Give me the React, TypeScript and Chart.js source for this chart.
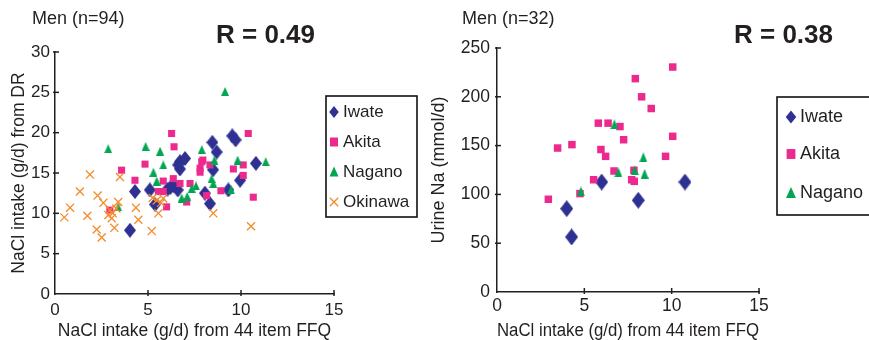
import React, { useEffect, useRef } from "react";
import { Chart, registerables } from "chart.js";
Chart.register(...registerables);

const FONT = '"Liberation Sans", Arial, Helvetica, sans-serif';
const INK = "#231f20";

const seriesNames = ["Iwate", "Akita", "Nagano", "Okinawa"];
const seriesColors = ["#2e3192", "#ec2a8e", "#00a651", "#f58a2b"];

const xTicks = [0, 5, 10, 15];
const leftYTicks = [0, 5, 10, 15, 20, 25, 30];
const rightYTicks = [0, 50, 100, 150, 200, 250];

// Left panel: NaCl intake (g/d) from 44 item FFQ  vs  NaCl intake (g/d) from DR
const leftIwate: number[][] = [
  [4.03, 7.9], [4.3, 12.7], [5.1, 12.9], [5.38, 11.1], [6.05, 13.0], [6.2, 13.2], [6.4, 13.4],
  [6.6, 12.9], [6.62, 16.0], [6.72, 15.5], [6.72, 16.4], [6.99, 16.8], [8.06, 12.5], [8.33, 11.2],
  [8.46, 18.8], [8.69, 17.6], [8.5, 15.4], [9.32, 12.9], [9.53, 19.6], [9.71, 19.1], [9.95, 14.1],
  [10.8, 16.2],
];
const leftAkita: number[][] = [
  [2.95, 10.4], [3.58, 15.35], [4.3, 14.1], [4.84, 16.1], [5.56, 12.7], [5.82, 12.7], [5.82, 14.0],
  [6.0, 10.8], [6.27, 19.9], [6.4, 18.25], [6.36, 14.3], [6.72, 13.7], [7.08, 11.4], [7.26, 13.7],
  [7.8, 15.6], [7.8, 15.1], [7.89, 16.4], [7.95, 16.6], [8.33, 16.0], [8.15, 12.2], [8.92, 12.8],
  [9.59, 15.5], [10.12, 16.0], [10.12, 14.7], [10.39, 19.9], [10.66, 12.0],
];
const leftNagano: number[][] = [
  [2.86, 18.0], [3.4, 10.8], [4.87, 18.3], [5.29, 15.1], [5.47, 14.0], [5.65, 17.7], [5.82, 16.0],
  [6.81, 11.9], [7.11, 12.1], [7.35, 13.1], [7.58, 13.4], [7.89, 17.9], [8.42, 14.3], [8.51, 13.7],
  [8.57, 16.6], [9.14, 25.1], [9.46, 12.9], [9.82, 16.6], [11.33, 16.4],
];
const leftOkinawa: number[][] = [
  [0.5, 9.5], [0.81, 10.7], [1.34, 12.7], [1.74, 9.7], [1.88, 14.8], [2.24, 8.0], [2.29, 12.2],
  [2.51, 7.0], [2.6, 11.3], [2.87, 9.8], [2.95, 10.4], [3.05, 9.4], [3.1, 10.0], [3.19, 8.2],
  [3.3, 10.6], [3.4, 11.4], [3.49, 14.5], [4.35, 10.7], [4.48, 9.2], [5.2, 7.8], [5.25, 11.9],
  [5.47, 11.6], [5.56, 10.0], [5.7, 11.3], [5.82, 11.85], [8.51, 10.0], [10.54, 8.4],
];

// Right panel: NaCl intake (g/d) from 44 item FFQ  vs  Urine Na (mmol/d)
const rightIwate: number[][] = [
  [3.99, 85.4], [4.27, 56.4], [5.99, 112.7], [8.09, 94], [10.76, 112.7],
];
const rightAkita: number[][] = [
  [2.94, 95], [3.47, 147.5], [4.29, 151], [4.75, 100.8], [5.53, 115], [5.8, 173], [6.36, 173],
  [5.95, 146], [6.22, 139], [6.7, 124], [7.04, 169.5], [7.25, 156], [7.92, 218.6], [8.28, 200],
  [8.83, 188], [10.06, 230.5], [10.06, 159.5], [9.65, 139], [7.71, 115], [7.86, 113.4], [7.84, 124.7],
];
const rightNagano: number[][] = [
  [4.8, 103], [6.72, 171.8], [6.95, 122.6], [7.88, 124.7], [8.38, 138], [8.45, 121],
];

function makeShape(kind: string, w: number, h: number, color: string): HTMLCanvasElement {
  const c = document.createElement("canvas");
  c.width = w;
  c.height = h;
  const g = c.getContext("2d")!;
  g.fillStyle = color;
  g.beginPath();
  if (kind === "diamond") {
    g.moveTo(w / 2, 0);
    g.lineTo(w, h / 2);
    g.lineTo(w / 2, h);
    g.lineTo(0, h / 2);
  } else {
    g.moveTo(w / 2, 0);
    g.lineTo(w, h);
    g.lineTo(0, h);
  }
  g.closePath();
  g.fill();
  return c;
}

function drawLegendMarker(ctx: CanvasRenderingContext2D, kind: string, x: number, y: number, s: number, color: string) {
  ctx.save();
  ctx.fillStyle = color;
  ctx.strokeStyle = color;
  ctx.beginPath();
  if (kind === "diamond") {
    ctx.moveTo(x, y - s * 0.6);
    ctx.lineTo(x + s * 0.48, y);
    ctx.lineTo(x, y + s * 0.6);
    ctx.lineTo(x - s * 0.48, y);
    ctx.closePath();
    ctx.fill();
  } else if (kind === "square") {
    ctx.rect(x - s * 0.4, y - s * 0.45, s * 0.8, s * 0.9);
    ctx.fill();
  } else if (kind === "triangle") {
    ctx.moveTo(x, y - s * 0.55);
    ctx.lineTo(x + s * 0.45, y + s * 0.45);
    ctx.lineTo(x - s * 0.45, y + s * 0.45);
    ctx.closePath();
    ctx.fill();
  } else {
    ctx.lineWidth = 1.3;
    const d = s * 0.42;
    ctx.moveTo(x - d, y - d);
    ctx.lineTo(x + d, y + d);
    ctx.moveTo(x + d, y - d);
    ctx.lineTo(x - d, y + d);
    ctx.stroke();
  }
  ctx.restore();
}

type PanelProps = {
  left: number;
  width: number;
  area: { left: number; right: number; top: number; bottom: number };
  yMax: number;
  yTicks: number[];
  yTitle: string;
  heading: string;
  rText: string;
  headingX: number;
  rX: number;
  tickSize: number;
  titleSize: number;
  legendSize: number;
  yPad: number;
  xPad: number;
  yTitlePad: number;
  legendBox: { x: number; y: number; w: number; h: number };
  legendMarkerX: number;
  legendTextX: number;
  legendYs: number[];
  legendMarker: number;
  datasets: any[];
  kinds: string[];
};

const H = 340;

function Panel(p: PanelProps) {
  const ref = useRef<HTMLCanvasElement>(null);
  useEffect(() => {
    const canvas = ref.current!;
    const overlay = {
      id: "overlay" + p.left,
      afterDraw(chart: any) {
        const ctx: CanvasRenderingContext2D = chart.ctx;
        const ca = chart.chartArea;
        const xs = chart.scales.x;
        const ys = chart.scales.y;
        ctx.save();
        ctx.strokeStyle = INK;
        ctx.lineWidth = 1.5;
        xs.ticks.forEach((t: any) => {
          if (t.value === 0) return;
          const px = xs.getPixelForValue(t.value);
          ctx.beginPath();
          ctx.moveTo(px, ca.bottom + 2);
          ctx.lineTo(px, ca.bottom - 4);
          ctx.stroke();
        });
        ys.ticks.forEach((t: any) => {
          if (t.value === 0) return;
          const py = ys.getPixelForValue(t.value);
          ctx.beginPath();
          ctx.moveTo(ca.left - 2, py);
          ctx.lineTo(ca.left + 4, py);
          ctx.stroke();
        });
        // headings
        ctx.fillStyle = INK;
        ctx.textBaseline = "middle";
        ctx.textAlign = "left";
        ctx.font = `18px ${FONT}`;
        ctx.fillText(p.heading, p.headingX, 19);
        ctx.font = `bold 26px ${FONT}`;
        ctx.fillText(p.rText, p.rX, 36);
        // legend
        const b = p.legendBox;
        ctx.lineWidth = 1.6;
        ctx.strokeStyle = "#111";
        ctx.strokeRect(b.x, b.y, b.w, b.h);
        ctx.font = `${p.legendSize}px ${FONT}`;
        p.datasets.forEach((ds: any, i: number) => {
          const y = p.legendYs[i];
          drawLegendMarker(ctx, p.kinds[i], p.legendMarkerX, y, p.legendMarker, ds.backgroundColor || ds.borderColor);
          ctx.fillStyle = INK;
          ctx.fillText(ds.label, p.legendTextX, y);
        });
        ctx.restore();
      },
    };
    const chart = new Chart(canvas, {
      type: "scatter",
      data: { datasets: p.datasets },
      options: {
        responsive: false,
        animation: false,
        events: [],
        layout: { padding: { left: 0, top: p.area.top, right: p.width - p.area.right, bottom: 0 } },
        plugins: { legend: { display: false }, tooltip: { enabled: false }, title: { display: false } },
        scales: {
          x: {
            type: "linear",
            min: 0,
            max: 15,
            afterBuildTicks: (s: any) => {
              s.ticks = xTicks.map((v) => ({ value: v }));
            },
            afterFit: (s: any) => {
              s.height = H - p.area.bottom;
            },
            grid: { display: false, drawTicks: false, tickLength: 0 },
            border: { display: true, color: INK, width: 1.5 },
            ticks: { padding: p.xPad, color: INK, font: { family: FONT, size: p.tickSize }, maxRotation: 0, autoSkip: false },
            title: {
              display: true,
              text: "NaCl intake (g/d) from 44 item FFQ",
              color: INK,
              font: { family: FONT, size: p.titleSize, lineHeight: 1 },
              padding: { top: 0, bottom: 0 },
            },
          },
          y: {
            type: "linear",
            min: 0,
            max: p.yMax,
            afterBuildTicks: (s: any) => {
              s.ticks = p.yTicks.map((v) => ({ value: v }));
            },
            afterFit: (s: any) => {
              s.width = p.area.left;
            },
            grid: { display: false, drawTicks: false, tickLength: 0 },
            border: { display: true, color: INK, width: 1.5 },
            ticks: { padding: p.yPad, color: INK, font: { family: FONT, size: p.tickSize }, autoSkip: false },
            title: {
              display: true,
              text: p.yTitle,
              color: INK,
              font: { family: FONT, size: p.titleSize, lineHeight: 1 },
              padding: { top: p.yTitlePad, bottom: 0 },
            },
          },
        },
      },
      plugins: [overlay],
    } as any);
    return () => chart.destroy();
  }, []);
  return (
    <canvas
      ref={ref}
      width={p.width}
      height={H}
      style={{ position: "absolute", left: p.left, top: 0, width: p.width, height: H }}
    />
  );
}

const toPts = (arr: number[][]) => arr.map(([x, y]) => ({ x, y }));

export default function App() {
  const leftDatasets = [
    { label: seriesNames[0], data: toPts(leftIwate), backgroundColor: seriesColors[0], pointStyle: makeShape("diamond", 12, 15, seriesColors[0]), pointRadius: 6, order: 4 },
    { label: seriesNames[1], data: toPts(leftAkita), backgroundColor: seriesColors[1], borderColor: seriesColors[1], pointStyle: "rect", pointRadius: 5, pointBorderWidth: 0, order: 3 },
    { label: seriesNames[2], data: toPts(leftNagano), backgroundColor: seriesColors[2], pointStyle: makeShape("triangle", 8, 9, seriesColors[2]), pointRadius: 5, order: 2 },
    { label: seriesNames[3], data: toPts(leftOkinawa), backgroundColor: seriesColors[3], borderColor: seriesColors[3], pointStyle: "crossRot", pointRadius: 5.7, pointBorderWidth: 1.3, order: 1 },
  ];
  const rightDatasets = [
    { label: seriesNames[0], data: toPts(rightIwate), backgroundColor: seriesColors[0], pointStyle: makeShape("diamond", 13, 17, seriesColors[0]), pointRadius: 6, order: 3 },
    { label: seriesNames[1], data: toPts(rightAkita), backgroundColor: seriesColors[1], borderColor: seriesColors[1], pointStyle: "rect", pointRadius: 5.3, pointBorderWidth: 0, order: 2 },
    { label: seriesNames[2], data: toPts(rightNagano), backgroundColor: seriesColors[2], pointStyle: makeShape("triangle", 8, 10, seriesColors[2]), pointRadius: 5, order: 1 },
  ];
  return (
    <div style={{ position: "absolute", left: 0, top: 0, width: 869, height: 340, background: "#fff", overflow: "hidden" }}>
      <Panel
        left={0}
        width={420}
        area={{ left: 55, right: 334, top: 52, bottom: 294 }}
        yMax={30}
        yTicks={leftYTicks}
        yTitle="NaCl intake (g/d) from DR"
        heading="Men (n=94)"
        rText="R = 0.49"
        headingX={32}
        rX={216}
        tickSize={17}
        titleSize={17.5}
        legendSize={17}
        yPad={5}
        xPad={6}
        yTitlePad={10}
        legendBox={{ x: 326, y: 96, w: 91, h: 121 }}
        legendMarkerX={334}
        legendTextX={343}
        legendYs={[112, 142, 172, 202]}
        legendMarker={10}
        datasets={leftDatasets}
        kinds={["diamond", "square", "triangle", "cross"]}
      />
      <Panel
        left={420}
        width={449}
        area={{ left: 77, right: 339, top: 48, bottom: 292 }}
        yMax={250}
        yTicks={rightYTicks}
        yTitle="Urine Na (mmol/d)"
        heading="Men (n=32)"
        rText="R = 0.38"
        headingX={42}
        rX={314}
        tickSize={17.5}
        titleSize={18}
        legendSize={18}
        yPad={7}
        xPad={4}
        yTitlePad={10.5}
        legendBox={{ x: 357, y: 97, w: 120, h: 118 }}
        legendMarkerX={371}
        legendTextX={380}
        legendYs={[117, 154, 193]}
        legendMarker={11}
        datasets={rightDatasets}
        kinds={["diamond", "square", "triangle"]}
      />
    </div>
  );
}
